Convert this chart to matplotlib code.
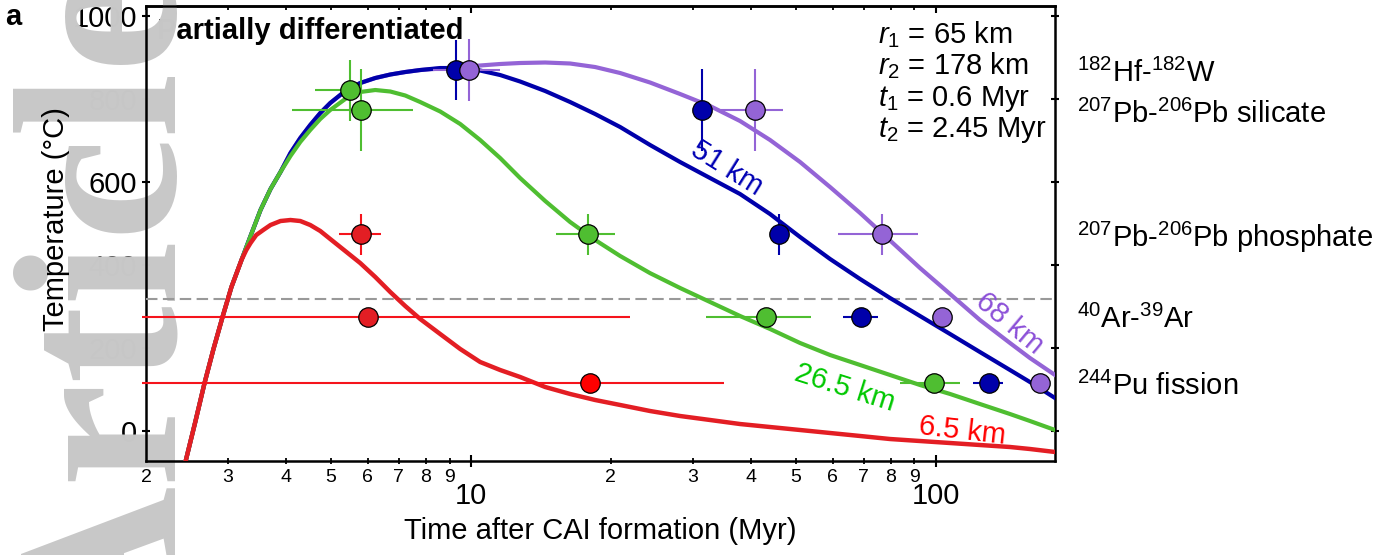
import matplotlib
matplotlib.use("Agg")
import matplotlib.pyplot as plt
import matplotlib.transforms as mtransforms
from matplotlib.ticker import FixedLocator, FixedFormatter, NullFormatter

plt.rcParams['font.family'] = ['Liberation Sans', 'DejaVu Sans']
plt.rcParams['mathtext.fontset'] = 'custom'
plt.rcParams['mathtext.rm'] = 'Liberation Sans'
plt.rcParams['mathtext.it'] = 'Liberation Sans:italic'
plt.rcParams['mathtext.bf'] = 'Liberation Sans:bold'

# ---------------- model cooling curves (time in Myr, T in degC) ----------------
t_red = [2.43, 2.556, 2.673, 2.794, 2.922, 3.054, 3.210, 3.287, 3.357, 3.453, 3.575, 3.706, 3.894,
         4.091, 4.295, 4.512, 4.742, 4.982, 5.366, 5.779, 6.227, 6.708, 7.224, 7.780, 8.590, 9.485,
         10.47, 11.56, 12.76, 14.45, 16.35, 18.51, 20.95, 24.30, 28.19, 32.70, 37.94, 44.02, 51.08,
         59.26, 68.76, 79.77, 92.52, 107.4, 124.5, 144.5, 159.5, 180.6]
T_red = [-75, 24.8, 116.2, 198.1, 275.1, 347.3, 412.3, 436.3, 453.2, 472.4, 484.5, 496.5, 506.1,
         508.5, 506.1, 496.5, 482.1, 462.8, 433.9, 405.0, 371.4, 335.2, 301.5, 270.3, 234.1, 198.1,
         166.8, 147.5, 130.7, 106.6, 89.8, 75.3, 63.3, 48.8, 36.8, 27.2, 17.5, 10.3, 3.1,
         -4.1, -11.3, -18.6, -23.4, -28.2, -33.0, -37.8, -42.6, -49.8]

t_model = [2.43, 2.556, 2.673, 2.794, 2.922, 3.054, 3.210, 3.357, 3.527, 3.706, 3.894, 4.091, 4.295,
           4.512, 4.742, 4.982, 5.366, 5.779, 6.227, 6.708, 7.224, 7.780, 8.590, 9.485, 10.47, 11.56,
           12.76, 14.45, 16.35, 18.51, 20.95, 24.30, 28.19, 32.70, 37.94, 44.02, 51.08, 59.26, 68.76,
           79.77, 92.52, 107.4, 124.5, 144.5, 159.5, 180.6]
T_green = [-75, 24.8, 116.2, 198.1, 275.1, 347.3, 412.3, 470.0, 532.6, 583.1, 624.1, 662.6, 696.4,
           725.1, 751.6, 773.3, 799.7, 816.6, 821.4, 817.8, 808.2, 792.5, 769.7, 739.6, 701.1, 657.7,
           609.6, 554.3, 503.7, 460.4, 421.9, 380.6, 344.9, 311.2, 277.5, 246.2, 212.5, 183.6, 159.6,
           135.5, 111.4, 89.8, 65.7, 41.6, 24.8, 3.1]
T_blue = [-75, 24.8, 116.2, 198.1, 275.1, 347.3, 412.3, 470.0, 532.6, 583.1, 624.1, 669.8, 705.9,
          737.2, 766.0, 790.1, 819.0, 838.2, 850.3, 858.7, 864.7, 869.5, 874.3, 874.3, 868.3, 857.5,
          841.9, 819.0, 792.5, 763.6, 732.3, 689.0, 648.1, 609.6, 571.1, 522.9, 467.6, 414.7, 366.5,
          320.8, 277.5, 234.1, 190.8, 147.5, 118.6, 80.1]
T_purple = [-75, 24.8, 116.2, 198.1, 275.1, 347.3, 412.3, 470.0, 532.6, 583.1, 624.1, 669.8, 705.9,
            737.2, 766.0, 790.1, 819.0, 838.2, 850.3, 858.7, 864.7, 869.5, 873.1, 876.7, 880.4, 884.0,
            886.4, 887.6, 885.2, 876.7, 862.3, 839.4, 811.8, 782.9, 746.8, 701.1, 648.1, 587.9, 525.4,
            459.2, 393.0, 330.4, 267.9, 212.5, 176.4, 135.5]

# ---------------- chronometer data points ----------------
green_t = [5.50, 5.81, 17.85, 43.1, 99.2]
green_T = [821, 773, 474, 276, 117]
green_xlo = [0.88, 1.69, 2.6, 11.1, 15.6]
green_xhi = [0.31, 1.69, 2.6, 10.8, 13.4]
green_yerr = [73, 99, 49, 0, 0]

blue_t = [9.30, 31.5, 46.1, 69.1, 130.2]
blue_T = [870, 773, 474, 276, 117]
blue_xerr = [0.4, 0, 0, 6.0, 9.7]
blue_yerr = [72, 98, 49, 0, 0]

purple_t = [9.93, 40.8, 76.6, 103.2, 167.6]
purple_T = [870, 773, 474, 276, 117]
purple_xerr = [1.65, 6.2, 15.0, 0, 0]
purple_yerr = [75, 98, 49, 0, 0]

red_t = [5.81, 6.00, 18.06]
red_T = [474, 276, 117]
red_xlo = [0.6, 4.04, 16.1]
red_xhi = [0.6, 16.0, 17.0]
red_yerr = [49, 0, 0]

closure_T = 319  # dashed line

# ---------------- labels ----------------
y_ticks = [0, 200, 400, 600, 800, 1000]
y_ticklabels = ['0', '200', '400', '600', '800', '1000']
x_major = [10, 100]
x_major_labels = ['10', '100']
x_minor = [2, 3, 4, 5, 6, 7, 8, 9, 20, 30, 40, 50, 60, 70, 80, 90]
x_minor_labels = ['2', '3', '4', '5', '6', '7', '8', '9', '2', '3', '4', '5', '6', '7', '8', '9']

method_labels = [r'$^{182}$Hf-$^{182}$W', r'$^{207}$Pb-$^{206}$Pb silicate',
                 r'$^{207}$Pb-$^{206}$Pb phosphate', r'$^{40}$Ar-$^{39}$Ar', r'$^{244}$Pu fission']
method_label_T = [840.7, 742, 443.6, 248.6, 87.4]

param_lines = [r'$\mathit{r_1}$ = 65 km', r'$\mathit{r_2}$ = 178 km',
               r'$\mathit{t_1}$ = 0.6 Myr', r'$\mathit{t_2}$ = 2.45 Myr']
param_y = [0.919, 0.8505, 0.780, 0.7127]

curve_labels = ['6.5 km', '26.5 km', '51 km', '68 km']
curve_label_t = [113.9, 63.8, 35.5, 144.5]
curve_label_T = [1.2, 105, 633, 260]
curve_label_rot = [-6.5, -17.5, -32, -40]

# ---------------- colours ----------------
c_red = '#e31e24'
c_red_bar = '#f5141c'
c_green = '#4fbe31'
c_blue = '#0000aa'
c_purple = '#9464d6'
lab_colors = ['#ff0000', '#00c800', '#0000b4', '#8c50d8']

fig = plt.figure(figsize=(13.91, 5.55), dpi=100)
ax = fig.add_axes([146 / 1391, 94 / 555, 909 / 1391, 455 / 555])
ax.set_xscale('log')
ax.set_xlim(2, 180.6)
ax.set_ylim(-71.5, 1023.6)

# curves
ax.plot(t_model, T_purple, color=c_purple, lw=3.0, zorder=3.0)
ax.plot(t_model, T_blue, color=c_blue, lw=3.0, zorder=3.1)
ax.plot(t_model, T_green, color=c_green, lw=3.0, zorder=3.2)
ax.plot(t_red, T_red, color=c_red, lw=3.2, zorder=3.3)

# dashed closure line
ax.axhline(closure_T, color='#999999', lw=1.5, dashes=(5.5, 2.6), zorder=2.9)


def pts(t, T, xerr, yerr, face, barcol):
    eb = ax.errorbar(t, T, xerr=xerr, yerr=yerr, fmt='none', ecolor=barcol,
                     elinewidth=1.5, capsize=0, zorder=4)
    for coll in eb[2]:
        coll.set_clip_on(False)
    ax.plot(t, T, 'o', ms=14, mfc=face, mec='black', mew=0.9, zorder=5, ls='none')


pts(green_t, green_T, [green_xlo, green_xhi], green_yerr, c_green, c_green)
pts(blue_t, blue_T, blue_xerr, blue_yerr, c_blue, c_blue)
pts(purple_t, purple_T, purple_xerr, purple_yerr, c_purple, c_purple)
eb = ax.errorbar(red_t, red_T, xerr=[red_xlo, red_xhi], yerr=red_yerr, fmt='none',
                 ecolor=c_red_bar, elinewidth=1.5, capsize=0, zorder=4)
for coll in eb[2]:
    coll.set_clip_on(False)
ax.plot(red_t[:2], red_T[:2], 'o', ms=14, mfc=c_red, mec='black', mew=0.9, zorder=5, ls='none')
ax.plot(red_t[2:], red_T[2:], 'o', ms=14, mfc='#ff0000', mec='black', mew=0.9, zorder=5, ls='none')

# curve labels
for lab, tt, TT, rot, col in zip(curve_labels, curve_label_t, curve_label_T, curve_label_rot, lab_colors):
    ax.text(tt, TT, lab, color=col, fontsize=21, rotation=rot, rotation_mode='anchor',
            ha='center', va='center', zorder=6)

# parameter block
for s, yy in zip(param_lines, param_y):
    ax.text(0.8053, yy, s, transform=ax.transAxes, fontsize=21, ha='left', va='baseline', zorder=6)

# method labels outside right
trans = mtransforms.blended_transform_factory(ax.transAxes, ax.transData)
for lab, TT in zip(method_labels, method_label_T):
    ax.text(1.0242, TT, lab, transform=trans, fontsize=21, ha='left', va='baseline', clip_on=False)

# title inside
ax.text(0.012, 0.927, 'Partially differentiated', transform=ax.transAxes, fontsize=21,
        fontweight='bold', ha='left', va='baseline', zorder=2.1)

# ticks
ax.set_yticks(y_ticks)
ax.set_yticklabels(y_ticklabels)
ax.tick_params(axis='y', which='major', direction='inout', length=6, width=1.5,
               labelsize=21, pad=3.5, left=True, right=True)
ax.xaxis.set_major_locator(FixedLocator(x_major))
ax.xaxis.set_major_formatter(FixedFormatter(x_major_labels))
ax.xaxis.set_minor_locator(FixedLocator(x_minor))
ax.xaxis.set_minor_formatter(FixedFormatter(x_minor_labels))
ax.tick_params(axis='x', which='major', direction='inout', length=8, width=1.5,
               labelsize=21, pad=11)
ax.tick_params(axis='x', which='minor', direction='inout', length=4.5, width=1.3,
               labelsize=14, pad=3.5)
for sp in ax.spines.values():
    sp.set_linewidth(1.8)

top = ax.secondary_xaxis('top')
top.xaxis.set_major_locator(FixedLocator(x_major))
top.xaxis.set_minor_locator(FixedLocator(x_minor))
top.xaxis.set_major_formatter(NullFormatter())
top.xaxis.set_minor_formatter(NullFormatter())
top.tick_params(axis='x', which='major', direction='in', length=5, width=1.5)
top.tick_params(axis='x', which='minor', direction='in', length=3, width=1.3)
top.spines['top'].set_linewidth(1.8)

# journal watermark
ax.text(173 / 1391, (555 - 652) / 555, 'Article', transform=fig.transFigure, rotation=90,
        rotation_mode='anchor', ha='left', va='baseline', fontsize=168, fontweight='bold',
        family='Liberation Serif', color='#c8c8c8', zorder=2.2, clip_on=False)

# axis labels and panel letter
fig.text(600.5 / 1391, 1 - 531 / 555, 'Time after CAI formation (Myr)', fontsize=21,
         ha='center', va='center')
fig.text(56 / 1391, 1 - 219 / 555, 'Temperature (\u00b0C)', fontsize=21, rotation=90,
         ha='center', va='center', zorder=10)
fig.text(5 / 1391, 1 - 25 / 555, 'a', fontsize=21, fontweight='bold', ha='left', va='baseline')

fig.savefig('out.png', dpi=100)
